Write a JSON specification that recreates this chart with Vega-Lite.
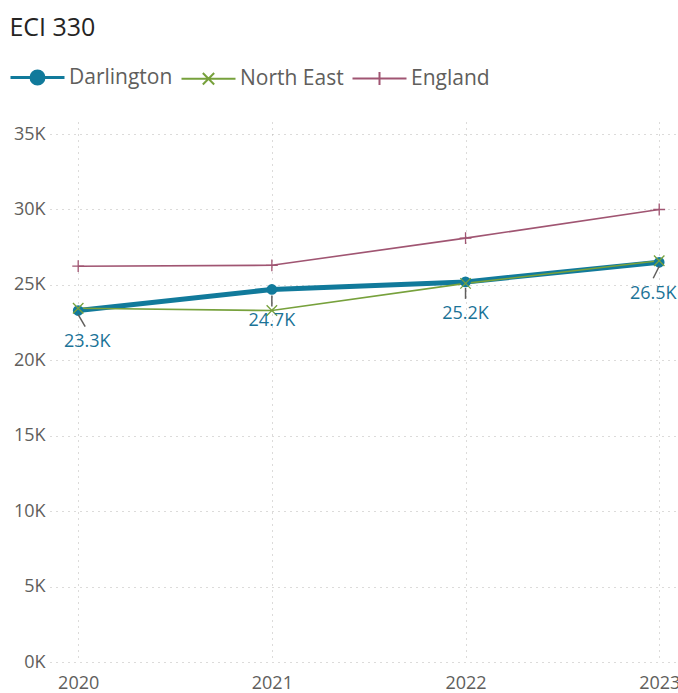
{
  "$schema": "https://vega.github.io/schema/vega-lite/v6.json",
  "width": 628,
  "height": 540,
  "autosize": {"type": "none"},
  "padding": {"left": 50, "top": 122, "right": 0, "bottom": 31},
  "background": "white",
  "title": {
    "text": "ECI 330",
    "anchor": "start",
    "dx": -4,
    "offset": 26,
    "fontSize": 25,
    "font": "Open Sans",
    "fontWeight": "normal",
    "color": "#252423"
  },
  "config": {
    "view": {"stroke": null},
    "font": "Open Sans"
  },
  "data": {
    "values": [
      {"year": "2020", "series": "Darlington", "value": 23300, "label": "23.3K"},
      {"year": "2021", "series": "Darlington", "value": 24700, "label": "24.7K"},
      {"year": "2022", "series": "Darlington", "value": 25200, "label": "25.2K"},
      {"year": "2023", "series": "Darlington", "value": 26500, "label": "26.5K"},
      {"year": "2020", "series": "North East", "value": 23450, "label": ""},
      {"year": "2021", "series": "North East", "value": 23300, "label": ""},
      {"year": "2022", "series": "North East", "value": 25100, "label": ""},
      {"year": "2023", "series": "North East", "value": 26600, "label": ""},
      {"year": "2020", "series": "England", "value": 26240, "label": ""},
      {"year": "2021", "series": "England", "value": 26300, "label": ""},
      {"year": "2022", "series": "England", "value": 28100, "label": ""},
      {"year": "2023", "series": "England", "value": 30000, "label": ""}
    ]
  },
  "encoding": {
    "x": {
      "field": "year",
      "type": "ordinal",
      "scale": {"type": "point", "padding": 0.1213, "align": 0.6},
      "axis": {
        "title": null,
        "labelAngle": 0,
        "labelFontSize": 18,
        "labelColor": "#605E5C",
        "labelPadding": 12,
        "domain": false,
        "ticks": false,
        "grid": true,
        "gridDash": [1, 5],
        "gridColor": "#B8B6B4",
        "gridWidth": 1
      }
    },
    "y": {
      "field": "value",
      "type": "quantitative",
      "scale": {"domain": [0, 35800], "nice": false, "zero": true},
      "axis": {
        "title": null,
        "values": [0, 5000, 10000, 15000, 20000, 25000, 30000, 35000],
        "labelExpr": "datum.value / 1000 + 'K'",
        "labelFontSize": 18,
        "labelColor": "#605E5C",
        "labelPadding": 5,
        "domain": false,
        "ticks": false,
        "grid": true,
        "gridDash": [1, 5],
        "gridColor": "#B8B6B4",
        "gridWidth": 1
      }
    }
  },
  "layer": [
    {
      "transform": [{"filter": "datum.series === 'England'"}],
      "mark": {"type": "line", "strokeWidth": 1.6},
      "encoding": {
        "color": {
          "field": "series",
          "type": "nominal",
          "scale": {"domain": ["Darlington", "North East", "England"], "range": ["#117A9B", "#77A13C", "#A05572"]},
          "legend": {
            "orient": "none",
            "legendX": -23,
            "legendY": -55,
            "direction": "horizontal",
            "title": null,
            "symbolSize": 2916,
            "labelFontSize": 21,
            "labelColor": "#605E5C",
            "labelFont": "Open Sans",
            "labelOffset": 21,
            "columnPadding": 4,
            "encode": {
              "symbols": {
                "update": {
                  "shape": {"signal": "datum.value === 'Darlington' ? 'M-1,0H1M0.24,0A0.24,0.24 0 1,1 -0.24,0A0.24,0.24 0 1,1 0.24,0Z' : datum.value === 'North East' ? 'M-1,0H1M-0.21,-0.21L0.21,0.21M-0.21,0.21L0.21,-0.21' : 'M-1,0H1M0,-0.24V0.24'"},
                  "fill": {"signal": "datum.value === 'Darlington' ? '#117A9B' : 'transparent'"},
                  "strokeWidth": {"signal": "datum.value === 'Darlington' ? 3 : 2"}
                }
              }
            }
          }
        }
      }
    },
    {
      "transform": [{"filter": "datum.series === 'Darlington'"}],
      "mark": {"type": "line", "strokeWidth": 5},
      "encoding": {"color": {"field": "series", "type": "nominal"}}
    },
    {
      "transform": [{"filter": "datum.series === 'North East'"}],
      "mark": {"type": "line", "strokeWidth": 1.6},
      "encoding": {"color": {"field": "series", "type": "nominal"}}
    },
    {
      "transform": [{"filter": "datum.series === 'Darlington'"}],
      "mark": {"type": "point", "shape": "circle", "filled": true, "size": 115, "color": "#117A9B", "opacity": 1}
    },
    {
      "transform": [{"filter": "datum.series === 'North East'"}],
      "mark": {"type": "point", "shape": "M-1,-1L1,1M-1,1L1,-1", "filled": false, "size": 110, "color": "#77A13C", "strokeWidth": 1.3, "opacity": 1}
    },
    {
      "transform": [{"filter": "datum.series === 'England'"}],
      "mark": {"type": "point", "shape": "M0,-1V1M-1,0H1", "filled": false, "size": 140, "color": "#A05572", "strokeWidth": 1.3, "opacity": 1}
    },
    {
      "transform": [{"filter": "datum.series === 'Darlington' && datum.year === '2020'"}],
      "mark": {"type": "rule", "color": "#605E5C", "strokeWidth": 1.5, "yOffset": 4, "y2Offset": 16, "x2Offset": 7},
      "encoding": {"x2": {"field": "year"}, "y2": {"field": "value"}}
    },
    {
      "transform": [{"filter": "datum.series === 'Darlington' && (datum.year === '2021' || datum.year === '2022')"}],
      "mark": {"type": "rule", "color": "#605E5C", "strokeWidth": 1.5, "yOffset": 6, "y2Offset": 17},
      "encoding": {"x2": {"field": "year"}, "y2": {"field": "value"}}
    },
    {
      "transform": [{"filter": "datum.series === 'Darlington' && datum.year === '2023'"}],
      "mark": {"type": "rule", "color": "#605E5C", "strokeWidth": 1.5, "yOffset": 4, "y2Offset": 16, "x2Offset": -6},
      "encoding": {"x2": {"field": "year"}, "y2": {"field": "value"}}
    },
    {
      "transform": [{"filter": "datum.series === 'Darlington' && datum.year === '2020'"}],
      "mark": {"type": "text", "fontSize": 18, "color": "#1B7397", "dy": 31, "dx": 9},
      "encoding": {"text": {"field": "label"}}
    },
    {
      "transform": [{"filter": "datum.series === 'Darlington' && (datum.year === '2021' || datum.year === '2022')"}],
      "mark": {"type": "text", "fontSize": 18, "color": "#1B7397", "dy": 32},
      "encoding": {"text": {"field": "label"}}
    },
    {
      "transform": [{"filter": "datum.series === 'Darlington' && datum.year === '2023'"}],
      "mark": {"type": "text", "fontSize": 18, "color": "#1B7397", "dy": 32, "dx": -6},
      "encoding": {"text": {"field": "label"}}
    }
  ]
}
